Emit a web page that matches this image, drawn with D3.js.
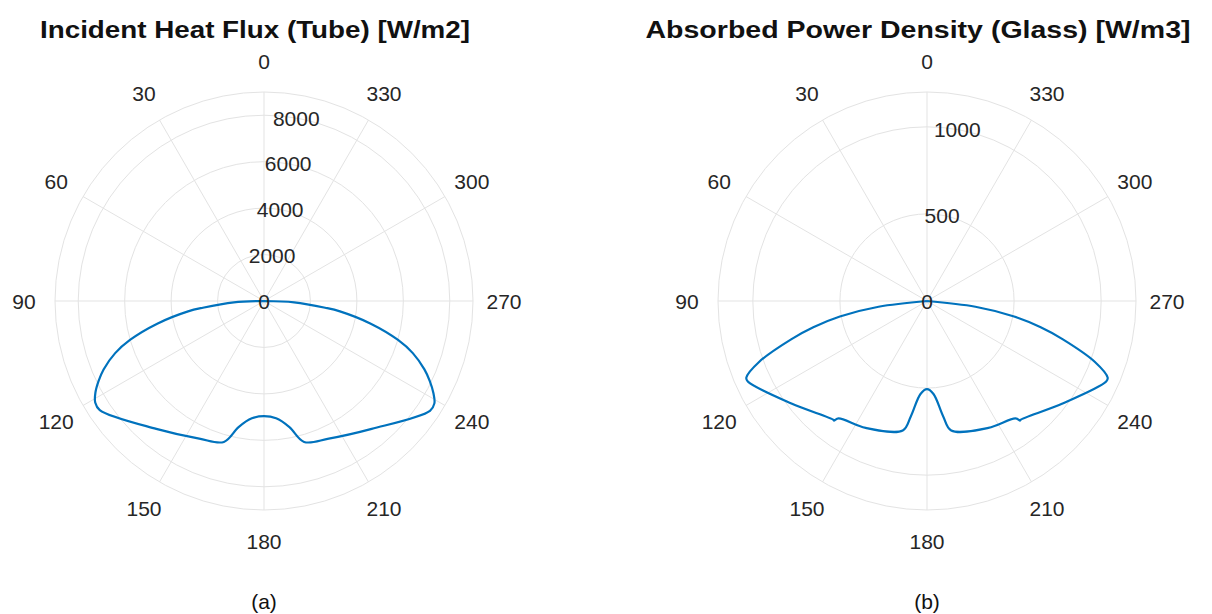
<!DOCTYPE html>
<html><head><meta charset="utf-8">
<script src="https://cdn.jsdelivr.net/npm/d3@7"></script>
<style>
body{margin:0;background:#fff;}
text{font-family:"Liberation Sans",Arial,sans-serif;}
</style></head>
<body>
<svg id="chart" width="1212" height="614"></svg>
<script>
// (a) incident heat flux on the tube, angle in degrees (0 at top, counter-clockwise)
const tubeAngles = [0, 90, 92.5, 96.3, 97.8, 102.0, 106.2, 109.3, 113.1, 115.8, 118.5, 121.0, 123.6, 139.9, 154.8, 164.1, 168.6, 174.1, 180,
                    185.9, 191.4, 195.9, 205.2, 220.1, 236.5, 239.0, 241.5, 244.2, 246.9, 250.7, 253.8, 258.0, 262.2, 263.7, 267.5, 270, 360];
const tubeFlux   = [0, 0, 1300, 2650, 3300, 4700, 6010, 6790, 7510, 7910, 8260, 8480, 8490, 7200, 6550, 6310, 5540, 5080, 4960,
                    5080, 5540, 6310, 6550, 7200, 8570, 8560, 8300, 7930, 7510, 6790, 6010, 4700, 3300, 2650, 1300, 0, 0];
// (b) absorbed power density in the glass
const glassAngles = [0, 90, 96.8, 100.1, 103.0, 105.7, 109.9, 113.0, 114.2, 127.1, 141.8, 142.1, 143.0, 154.2, 169.4, 172.0, 176.0, 180,
                     184.0, 188.0, 190.6, 205.8, 217.0, 217.9, 218.2, 232.9, 245.8, 247.0, 250.1, 254.3, 257.0, 259.9, 263.2, 270, 360];
const glassPower  = [0, 0, 280, 508, 670, 808, 1024, 1127, 1128, 976, 868, 870, 844, 809, 756, 669, 535, 506,
                     535, 669, 756, 809, 844, 870, 868, 976, 1128, 1127, 1024, 808, 670, 508, 280, 0, 0];

const tubeTicks = [0, 2000, 4000, 6000, 8000];
const glassTicks = [0, 500, 1000];
const angleTicks = d3.range(0, 360, 30);

const svg = d3.select("#chart");
const R = 209; // outer radius in px

function drawPolar(cx, cy, angles, values, rMax, ticks, title, titleWidth, caption) {
    const g = svg.append("g").attr("transform", `translate(${cx},${cy})`);
    const r = d3.scaleLinear().domain([0, rMax]).range([0, R]);
    // screen angle (radians, clockwise from top) for a counter-clockwise data angle
    const a = d => -d * Math.PI / 180;

    const grid = ticks.slice(1).concat([rMax]);
    g.selectAll("circle.grid").data(grid).join("circle").attr("class", "grid")
        .attr("r", d => r(d)).attr("fill", "none")
        .attr("stroke", "#e3e3e3").attr("stroke-width", 1);

    g.selectAll("line.spoke").data(angleTicks).join("line").attr("class", "spoke")
        .attr("x1", 0).attr("y1", 0)
        .attr("x2", d => R * Math.sin(a(d))).attr("y2", d => -R * Math.cos(a(d)))
        .attr("stroke", "#e3e3e3").attr("stroke-width", 1);

    g.selectAll("text.ang").data(angleTicks).join("text").attr("class", "ang")
        .attr("x", d => (R + 31) * Math.sin(a(d)))
        .attr("y", d => -(R + 31) * Math.cos(a(d)))
        .attr("text-anchor", "middle").attr("dominant-baseline", "central")
        .attr("font-size", 21).attr("fill", "#262626")
        .text(d => d);

    const line = d3.lineRadial()
        .angle((d, i) => a(angles[i]))
        .radius(d => r(d))
        .curve(d3.curveCatmullRom.alpha(0.5));
    g.append("path").datum(values)
        .attr("d", line).attr("fill", "none").attr("stroke-linejoin", "round")
        .attr("stroke", "#0072BD").attr("stroke-width", 2.2);

    const tickAng = 10 * Math.PI / 180;
    g.selectAll("text.rt").data(ticks).join("text").attr("class", "rt")
        .attr("x", d => r(d) * Math.sin(tickAng))
        .attr("y", d => -r(d) * Math.cos(tickAng))
        .attr("text-anchor", "middle").attr("dominant-baseline", "central")
        .attr("font-size", 21).attr("fill", "#262626")
        .text(d => d);

    svg.append("text").attr("x", cx - 9).attr("y", 38)
        .attr("text-anchor", "middle").attr("font-size", 23).attr("font-weight", "bold")
        .attr("textLength", titleWidth).attr("lengthAdjust", "spacingAndGlyphs")
        .attr("fill", "#111").text(title);
    svg.append("text").attr("x", cx).attr("y", 609)
        .attr("text-anchor", "middle").attr("font-size", 21)
        .attr("font-family", "Carlito, 'DejaVu Sans', sans-serif")
        .attr("fill", "#111").text(caption);
}

drawPolar(264, 301, tubeAngles, tubeFlux, 9000, tubeTicks, "Incident Heat Flux (Tube) [W/m2]", 430, "(a)");
drawPolar(927, 301, glassAngles, glassPower, 1200, glassTicks, "Absorbed Power Density (Glass) [W/m3]", 545, "(b)");
</script>
</body></html>
